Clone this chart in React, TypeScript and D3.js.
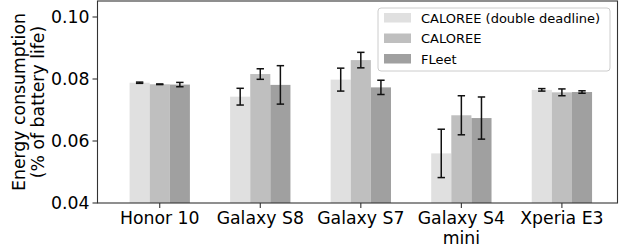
import React from "react";
import * as d3 from "d3";

const devices = ["Honor 10", "Galaxy S8", "Galaxy S7", "Galaxy S4\nmini", "Xperia E3"];
const seriesNames = ["CALOREE (double deadline)", "CALOREE", "FLeet"];
const colors = ["#e0e0e0", "#bfbfbf", "#a0a0a0"];

const doubleDeadline = [0.0788, 0.0743, 0.0798, 0.056, 0.0765];
const doubleDeadlineErr = [0.0002, 0.0027, 0.0037, 0.0078, 0.0004];
const caloree = [0.0783, 0.0816, 0.0861, 0.0683, 0.0757];
const calorreErr = [0.0001, 0.0017, 0.0025, 0.0063, 0.0011];
const fleet = [0.0782, 0.0781, 0.0773, 0.0674, 0.0758];
const fleetErr = [0.0007, 0.0062, 0.0023, 0.0068, 0.0004];

const yTicks = [0.04, 0.06, 0.08, 0.1];

const values = [doubleDeadline, caloree, fleet];
const errors = [doubleDeadlineErr, calorreErr, fleetErr];

const W = 622;
const H = 248;
const left = 97.5;
const right = 617.5;
const top = 1;
const bottom = 203;
const barW = 0.2;
const font = "DejaVu Sans, sans-serif";
const fs = 17.3;

export default function App() {
  const x = d3.scaleLinear().domain([-0.619, 4.553]).range([left, right]);
  const y = d3.scaleLinear().domain([0.04, 0.1]).range([bottom, 17]);
  const bw = x(barW) - x(0);

  return (
    <svg
      width={W}
      height={H}
      style={{ position: "absolute", left: 0, top: 0, background: "#fff" }}
      fontFamily={font}
    >
      {values.map((vals, s) =>
        vals.map((v, i) => {
          const cx = x(i + (s - 1) * barW);
          return (
            <rect
              key={`b${s}-${i}`}
              x={cx - bw / 2}
              y={y(v)}
              width={bw}
              height={bottom - y(v)}
              fill={colors[s]}
            />
          );
        })
      )}
      {values.map((vals, s) =>
        vals.map((v, i) => {
          const cx = x(i + (s - 1) * barW);
          const e = errors[s][i];
          const y1 = y(v + e);
          const y0 = y(v - e);
          return (
            <g key={`e${s}-${i}`} stroke="#111" strokeWidth={1.5}>
              <line x1={cx} x2={cx} y1={y1} y2={y0} />
              <line x1={cx - 3.7} x2={cx + 3.7} y1={y1} y2={y1} />
              <line x1={cx - 3.7} x2={cx + 3.7} y1={y0} y2={y0} />
            </g>
          );
        })
      )}
      <rect
        x={left}
        y={top}
        width={right - left}
        height={bottom - top}
        fill="none"
        stroke="#333"
        strokeWidth={1.1}
      />
      {yTicks.map((t) => (
        <g key={t}>
          <line x1={left - 5} x2={left} y1={y(t)} y2={y(t)} stroke="#333" strokeWidth={1.1} />
          <text x={left - 8} y={y(t)} dy="0.35em" textAnchor="end" fontSize={fs} fill="#000">
            {d3.format(".2f")(t)}
          </text>
        </g>
      ))}
      {devices.map((d, i) => (
        <g key={d}>
          <line x1={x(i)} x2={x(i)} y1={bottom} y2={bottom + 5} stroke="#333" strokeWidth={1.1} />
          {d.split("\n").map((ln, k) => (
            <text key={k} x={x(i)} y={224 + k * 19.5} textAnchor="middle" fontSize={fs} fill="#000">
              {ln}
            </text>
          ))}
        </g>
      ))}
      <text transform="rotate(-90)" textAnchor="middle" fontSize={fs} fill="#000">
        <tspan x={-(top + bottom) / 2} y={25}>Energy consumption</tspan>
        <tspan x={-(top + bottom) / 2} y={44}>(% of battery life)</tspan>
      </text>
      <g>
        <rect x={378} y={8} width={232} height={63} rx={3} fill="#fff" fillOpacity={0.8} stroke="#ccc" strokeWidth={1} />
        {seriesNames.map((n, s) => (
          <g key={n}>
            <rect x={384} y={13 + s * 20.5} width={27} height={9.5} fill={colors[s]} />
            <text x={421} y={18 + s * 20.5} dy="0.35em" fontSize={13} fill="#000">
              {n}
            </text>
          </g>
        ))}
      </g>
    </svg>
  );
}
